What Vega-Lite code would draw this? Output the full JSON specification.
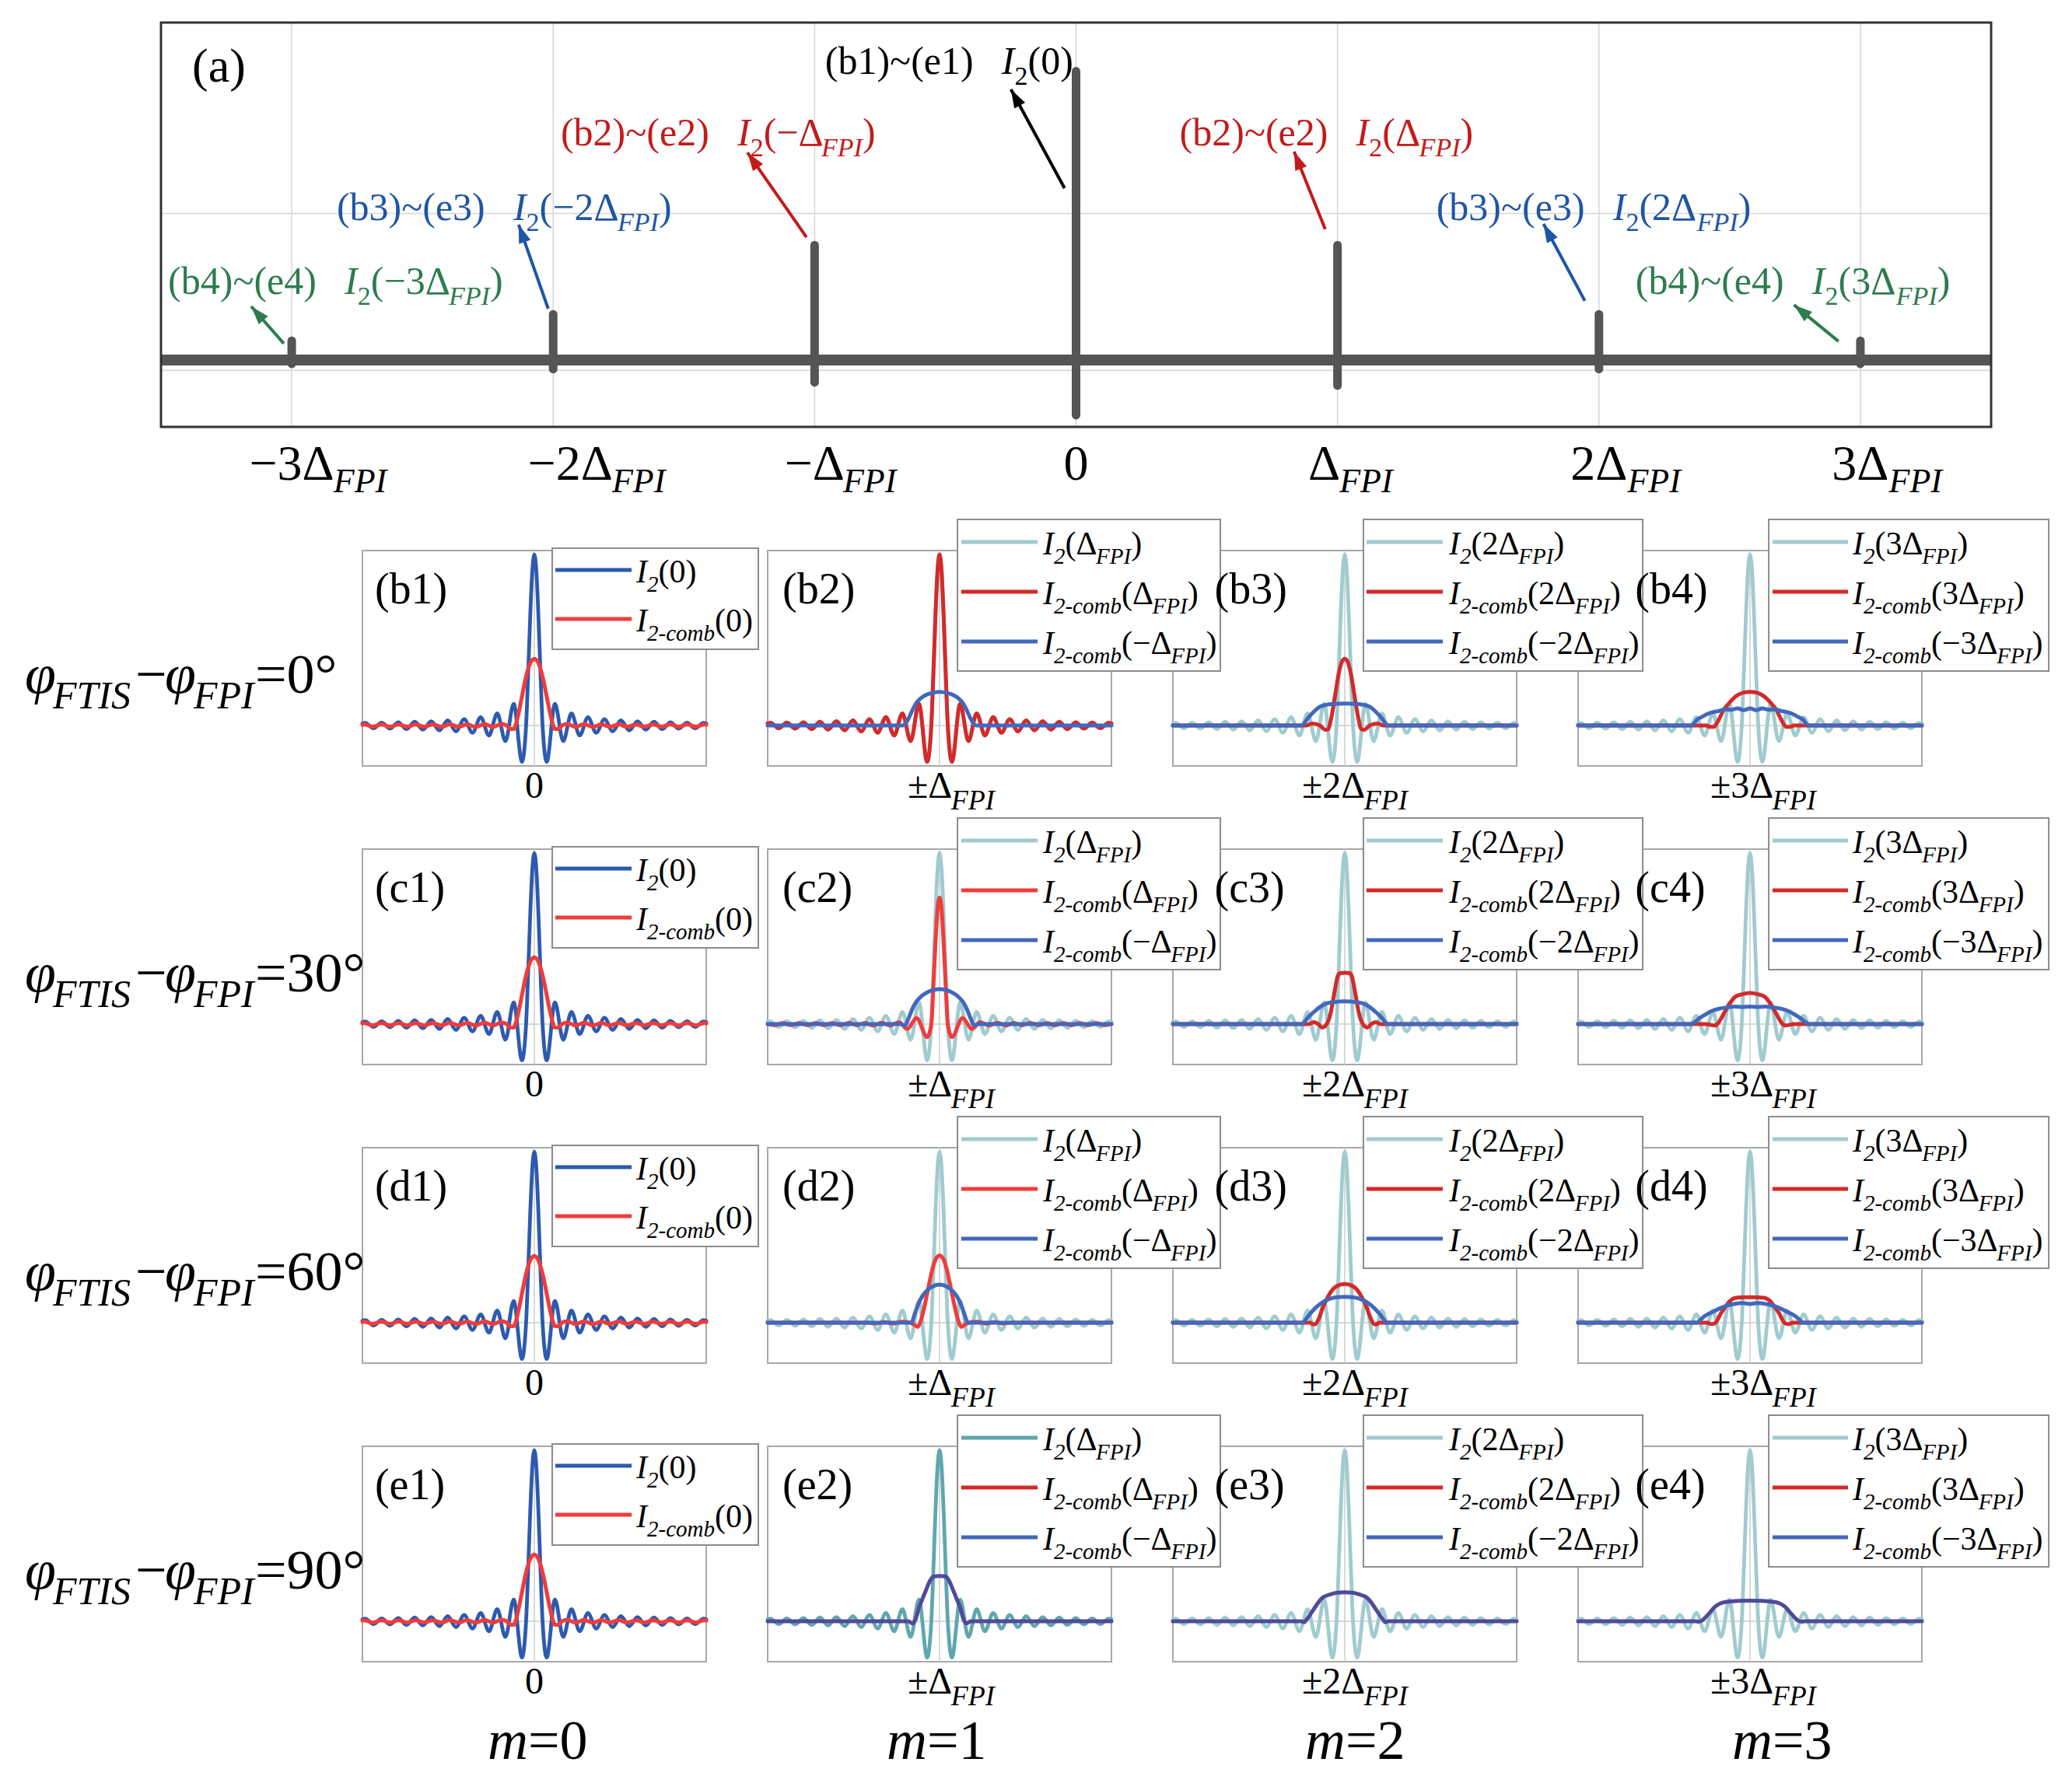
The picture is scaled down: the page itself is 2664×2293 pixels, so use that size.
{
"$schema": "https://vega.github.io/schema/vega-lite/v6.json",
"background": "white",
"padding": {"left": 31, "top": 27, "right": 10, "bottom": 14},
"config": {
 "view": {"stroke": null},
 "axis": {"disable": true},
 "legend": {"disable": true},
 "text": {"font": "Liberation Serif", "baseline": "alphabetic", "align": "left", "color": "#000000"},
 "line": {"interpolate": "monotone", "strokeCap": "round", "strokeJoin": "round"}
},
"datasets": {
 "stems": [{"k":-3,"y1":-0.013,"y2":0.066,"t":"−3Δ"},{"k":-2,"y1":-0.031,"y2":0.156,"t":"−2Δ"},{"k":-1,"y1":-0.076,"y2":0.392,"t":"−Δ"},{"k":0,"y1":-0.188,"y2":0.985,"t":"0"},{"k":1,"y1":-0.087,"y2":0.392,"t":"Δ"},{"k":2,"y1":-0.031,"y2":0.156,"t":"2Δ"},{"k":3,"y1":-0.013,"y2":0.066,"t":"3Δ"}],
 "arrows": [{"g":"k","x":-0.044,"y":0.586,"x2":-0.249,"y2":0.923},{"g":"r","x":-1.031,"y":0.419,"x2":-1.257,"y2":0.708},{"g":"r","x":0.953,"y":0.446,"x2":0.834,"y2":0.711},{"g":"b","x":-2.019,"y":0.175,"x2":-2.132,"y2":0.462},{"g":"b","x":1.946,"y":0.202,"x2":1.788,"y2":0.464},{"g":"gr","x":-3.03,"y":0.056,"x2":-3.155,"y2":0.183},{"g":"gr","x":2.916,"y":0.064,"x2":2.746,"y2":0.188}],
 "labs": [{"g":"k","x":-0.96,"y":0.976,"lab":"(b1)~(e1)","arg":"(0)"},{"g":"r","x":-1.971,"y":0.732,"lab":"(b2)~(e2)","arg":"(−Δ"},{"g":"r","x":0.396,"y":0.732,"lab":"(b2)~(e2)","arg":"(Δ"},{"g":"b","x":-2.828,"y":0.477,"lab":"(b3)~(e3)","arg":"(−2Δ"},{"g":"b","x":1.378,"y":0.477,"lab":"(b3)~(e3)","arg":"(2Δ"},{"g":"gr","x":-3.473,"y":0.225,"lab":"(b4)~(e4)","arg":"(−3Δ"},{"g":"gr","x":2.14,"y":0.225,"lab":"(b4)~(e4)","arg":"(3Δ"}],
 "cv": [
{"s":"L0_0","t":"(b1)","d":"=0°"},{"s":"L0_30","t":"(c1)","d":"=30°"},{"s":"L0_60","t":"(d1)","d":"=60°"},{"s":"L0_90","t":"(e1)","d":"=90°"},
{"s":"L1_0","t":"(b2)"},{"s":"L1_30","t":"(c2)"},{"s":"L1_60","t":"(d2)"},{"s":"L1_90","t":"(e2)"},
{"s":"L2_0","t":"(b3)"},{"s":"L2_30","t":"(c3)"},{"s":"L2_60","t":"(d3)"},{"s":"L2_90","t":"(e3)"},
{"s":"L3_0","t":"(b4)"},{"s":"L3_30","t":"(c4)"},{"s":"L3_60","t":"(d4)"},{"s":"L3_90","t":"(e4)"},
{"s":"S","x":-1,"y":0.012},{"s":"S","x":-0.984,"y":0.016},{"s":"S","x":-0.936,"y":-0.016},{"s":"S","x":-0.888,"y":0.017},{"s":"S","x":-0.84,"y":-0.018},{"s":"S","x":-0.792,"y":0.019},{"s":"S","x":-0.744,"y":-0.021},{"s":"S","x":-0.696,"y":0.022},{"s":"S","x":-0.648,"y":-0.024},{"s":"S","x":-0.6,"y":0.025},{"s":"S","x":-0.552,"y":-0.028},{"s":"S","x":-0.504,"y":0.03},{"s":"S","x":-0.456,"y":-0.034},{"s":"S","x":-0.408,"y":0.037},{"s":"S","x":-0.36,"y":-0.042},{"s":"S","x":-0.312,"y":0.049},{"s":"S","x":-0.264,"y":-0.058},{"s":"S","x":-0.216,"y":0.071},{"s":"S","x":-0.168,"y":-0.091},{"s":"S","x":-0.12,"y":0.127},{"s":"S","x":-0.072,"y":-0.212},{"s":"S","x":-0.048,"y":0},{"s":"S","x":-0.036,"y":0.3},{"s":"S","x":-0.024,"y":0.637},{"s":"S","x":-0.012,"y":0.9},{"s":"S","x":0,"y":1},{"s":"S","x":0.012,"y":0.9},{"s":"S","x":0.024,"y":0.637},{"s":"S","x":0.036,"y":0.3},{"s":"S","x":0.048,"y":0},{"s":"S","x":0.072,"y":-0.212},{"s":"S","x":0.12,"y":0.127},{"s":"S","x":0.168,"y":-0.091},{"s":"S","x":0.216,"y":0.071},{"s":"S","x":0.264,"y":-0.058},{"s":"S","x":0.312,"y":0.049},{"s":"S","x":0.36,"y":-0.042},{"s":"S","x":0.408,"y":0.037},{"s":"S","x":0.456,"y":-0.034},{"s":"S","x":0.504,"y":0.03},{"s":"S","x":0.552,"y":-0.028},{"s":"S","x":0.6,"y":0.025},{"s":"S","x":0.648,"y":-0.024},{"s":"S","x":0.696,"y":0.022},{"s":"S","x":0.744,"y":-0.021},{"s":"S","x":0.792,"y":0.019},{"s":"S","x":0.84,"y":-0.018},{"s":"S","x":0.888,"y":0.017},{"s":"S","x":0.936,"y":-0.016},{"s":"S","x":0.984,"y":0.016},{"s":"S","x":1,"y":0.012},
{"s":"R0","x":-1,"y":0.004},{"s":"R0","x":-0.99,"y":0.006},{"s":"R0","x":-0.94,"y":-0.006},{"s":"R0","x":-0.89,"y":0.006},{"s":"R0","x":-0.84,"y":-0.006},{"s":"R0","x":-0.79,"y":0.006},{"s":"R0","x":-0.74,"y":-0.006},{"s":"R0","x":-0.69,"y":0.006},{"s":"R0","x":-0.64,"y":-0.006},{"s":"R0","x":-0.59,"y":0.006},{"s":"R0","x":-0.54,"y":-0.007},{"s":"R0","x":-0.49,"y":0.007},{"s":"R0","x":-0.44,"y":-0.007},{"s":"R0","x":-0.39,"y":0.007},{"s":"R0","x":-0.34,"y":-0.008},{"s":"R0","x":-0.29,"y":0.008},{"s":"R0","x":-0.24,"y":-0.008},{"s":"R0","x":-0.19,"y":0.01},{"s":"R0","x":-0.16,"y":0},{"s":"R0","x":-0.14,"y":-0.02},{"s":"R0","x":-0.12,"y":-0.02},{"s":"R0","x":-0.104,"y":0.02},{"s":"R0","x":-0.09,"y":0.08},{"s":"R0","x":-0.072,"y":0.17},{"s":"R0","x":-0.054,"y":0.26},{"s":"R0","x":-0.036,"y":0.33},{"s":"R0","x":-0.018,"y":0.375},{"s":"R0","x":0,"y":0.39},{"s":"R0","x":0.018,"y":0.375},{"s":"R0","x":0.036,"y":0.33},{"s":"R0","x":0.054,"y":0.26},{"s":"R0","x":0.072,"y":0.17},{"s":"R0","x":0.09,"y":0.08},{"s":"R0","x":0.104,"y":0.02},{"s":"R0","x":0.12,"y":-0.02},{"s":"R0","x":0.14,"y":-0.02},{"s":"R0","x":0.16,"y":0},{"s":"R0","x":0.19,"y":0.01},{"s":"R0","x":0.24,"y":-0.008},{"s":"R0","x":0.29,"y":0.008},{"s":"R0","x":0.34,"y":-0.008},{"s":"R0","x":0.39,"y":0.007},{"s":"R0","x":0.44,"y":-0.007},{"s":"R0","x":0.49,"y":0.007},{"s":"R0","x":0.54,"y":-0.007},{"s":"R0","x":0.59,"y":0.006},{"s":"R0","x":0.64,"y":-0.006},{"s":"R0","x":0.69,"y":0.006},{"s":"R0","x":0.74,"y":-0.006},{"s":"R0","x":0.79,"y":0.006},{"s":"R0","x":0.84,"y":-0.006},{"s":"R0","x":0.89,"y":0.006},{"s":"R0","x":0.94,"y":-0.006},{"s":"R0","x":0.99,"y":0.006},{"s":"R0","x":1,"y":0.004},
{"s":"R1_30","x":-1,"y":0},{"s":"R1_30","x":-0.96,"y":-0.006},{"s":"R1_30","x":-0.912,"y":0.006},{"s":"R1_30","x":-0.864,"y":-0.006},{"s":"R1_30","x":-0.816,"y":0.006},{"s":"R1_30","x":-0.768,"y":-0.006},{"s":"R1_30","x":-0.72,"y":0.006},{"s":"R1_30","x":-0.672,"y":-0.006},{"s":"R1_30","x":-0.624,"y":0.006},{"s":"R1_30","x":-0.576,"y":-0.007},{"s":"R1_30","x":-0.528,"y":0.007},{"s":"R1_30","x":-0.48,"y":-0.007},{"s":"R1_30","x":-0.432,"y":0.007},{"s":"R1_30","x":-0.384,"y":-0.008},{"s":"R1_30","x":-0.336,"y":0.008},{"s":"R1_30","x":-0.288,"y":-0.008},{"s":"R1_30","x":-0.236,"y":0.012},{"s":"R1_30","x":-0.188,"y":-0.028},{"s":"R1_30","x":-0.134,"y":0.036},{"s":"R1_30","x":-0.072,"y":-0.076},{"s":"R1_30","x":-0.048,"y":0},{"s":"R1_30","x":-0.036,"y":0.22},{"s":"R1_30","x":-0.024,"y":0.47},{"s":"R1_30","x":-0.012,"y":0.67},{"s":"R1_30","x":0,"y":0.74},{"s":"R1_30","x":0.012,"y":0.67},{"s":"R1_30","x":0.024,"y":0.47},{"s":"R1_30","x":0.036,"y":0.22},{"s":"R1_30","x":0.048,"y":0},{"s":"R1_30","x":0.072,"y":-0.076},{"s":"R1_30","x":0.134,"y":0.036},{"s":"R1_30","x":0.188,"y":-0.028},{"s":"R1_30","x":0.236,"y":0.012},{"s":"R1_30","x":0.288,"y":-0.008},{"s":"R1_30","x":0.336,"y":0.008},{"s":"R1_30","x":0.384,"y":-0.008},{"s":"R1_30","x":0.432,"y":0.007},{"s":"R1_30","x":0.48,"y":-0.007},{"s":"R1_30","x":0.528,"y":0.007},{"s":"R1_30","x":0.576,"y":-0.007},{"s":"R1_30","x":0.624,"y":0.006},{"s":"R1_30","x":0.672,"y":-0.006},{"s":"R1_30","x":0.72,"y":0.006},{"s":"R1_30","x":0.768,"y":-0.006},{"s":"R1_30","x":0.816,"y":0.006},{"s":"R1_30","x":0.864,"y":-0.006},{"s":"R1_30","x":0.912,"y":0.006},{"s":"R1_30","x":0.96,"y":-0.006},{"s":"R1_30","x":1,"y":0},
{"s":"B1_0","x":-1,"y":0},{"s":"B1_0","x":-0.215,"y":0},{"s":"B1_0","x":-0.199,"y":0.01},{"s":"B1_0","x":-0.181,"y":0.04},{"s":"B1_0","x":-0.158,"y":0.09},{"s":"B1_0","x":-0.136,"y":0.13},{"s":"B1_0","x":-0.109,"y":0.16},{"s":"B1_0","x":-0.081,"y":0.178},{"s":"B1_0","x":-0.045,"y":0.19},{"s":"B1_0","x":0,"y":0.197},{"s":"B1_0","x":0.045,"y":0.19},{"s":"B1_0","x":0.081,"y":0.178},{"s":"B1_0","x":0.109,"y":0.16},{"s":"B1_0","x":0.136,"y":0.13},{"s":"B1_0","x":0.158,"y":0.09},{"s":"B1_0","x":0.181,"y":0.04},{"s":"B1_0","x":0.199,"y":0.01},{"s":"B1_0","x":0.215,"y":0},{"s":"B1_0","x":1,"y":0},
{"s":"B1_30","x":-1,"y":0},{"s":"B1_30","x":-0.225,"y":0},{"s":"B1_30","x":-0.205,"y":-0.008},{"s":"B1_30","x":-0.195,"y":0},{"s":"B1_30","x":-0.18,"y":0.035},{"s":"B1_30","x":-0.16,"y":0.085},{"s":"B1_30","x":-0.136,"y":0.13},{"s":"B1_30","x":-0.109,"y":0.16},{"s":"B1_30","x":-0.081,"y":0.18},{"s":"B1_30","x":-0.045,"y":0.197},{"s":"B1_30","x":0,"y":0.205},{"s":"B1_30","x":0.045,"y":0.197},{"s":"B1_30","x":0.081,"y":0.18},{"s":"B1_30","x":0.109,"y":0.16},{"s":"B1_30","x":0.136,"y":0.13},{"s":"B1_30","x":0.16,"y":0.085},{"s":"B1_30","x":0.18,"y":0.035},{"s":"B1_30","x":0.195,"y":0},{"s":"B1_30","x":0.205,"y":-0.008},{"s":"B1_30","x":0.225,"y":0},{"s":"B1_30","x":1,"y":0},
{"s":"R1_60","x":-1,"y":0},{"s":"R1_60","x":-0.42,"y":0},{"s":"R1_60","x":-0.37,"y":-0.004},{"s":"R1_60","x":-0.32,"y":0.004},{"s":"R1_60","x":-0.27,"y":-0.005},{"s":"R1_60","x":-0.22,"y":0.006},{"s":"R1_60","x":-0.172,"y":0},{"s":"R1_60","x":-0.149,"y":-0.01},{"s":"R1_60","x":-0.127,"y":-0.025},{"s":"R1_60","x":-0.113,"y":0},{"s":"R1_60","x":-0.09,"y":0.085},{"s":"R1_60","x":-0.068,"y":0.19},{"s":"R1_60","x":-0.045,"y":0.3},{"s":"R1_60","x":-0.023,"y":0.37},{"s":"R1_60","x":0,"y":0.394},{"s":"R1_60","x":0.023,"y":0.37},{"s":"R1_60","x":0.045,"y":0.3},{"s":"R1_60","x":0.068,"y":0.19},{"s":"R1_60","x":0.09,"y":0.085},{"s":"R1_60","x":0.113,"y":0},{"s":"R1_60","x":0.127,"y":-0.025},{"s":"R1_60","x":0.149,"y":-0.01},{"s":"R1_60","x":0.172,"y":0},{"s":"R1_60","x":0.22,"y":0.006},{"s":"R1_60","x":0.27,"y":-0.005},{"s":"R1_60","x":0.32,"y":0.004},{"s":"R1_60","x":0.37,"y":-0.004},{"s":"R1_60","x":0.42,"y":0},{"s":"R1_60","x":1,"y":0},
{"s":"B1_60","x":-1,"y":0},{"s":"B1_60","x":-0.168,"y":0},{"s":"B1_60","x":-0.158,"y":0.01},{"s":"B1_60","x":-0.145,"y":0.05},{"s":"B1_60","x":-0.127,"y":0.1},{"s":"B1_60","x":-0.109,"y":0.14},{"s":"B1_60","x":-0.081,"y":0.18},{"s":"B1_60","x":-0.045,"y":0.21},{"s":"B1_60","x":0,"y":0.223},{"s":"B1_60","x":0.045,"y":0.21},{"s":"B1_60","x":0.081,"y":0.18},{"s":"B1_60","x":0.109,"y":0.14},{"s":"B1_60","x":0.127,"y":0.1},{"s":"B1_60","x":0.145,"y":0.05},{"s":"B1_60","x":0.158,"y":0.01},{"s":"B1_60","x":0.168,"y":0},{"s":"B1_60","x":1,"y":0},
{"s":"E1_90","x":-1,"y":0},{"s":"E1_90","x":-0.181,"y":0},{"s":"E1_90","x":-0.158,"y":-0.012},{"s":"E1_90","x":-0.14,"y":0.01},{"s":"E1_90","x":-0.118,"y":0.086},{"s":"E1_90","x":-0.1,"y":0.13},{"s":"E1_90","x":-0.081,"y":0.177},{"s":"E1_90","x":-0.054,"y":0.24},{"s":"E1_90","x":-0.036,"y":0.262},{"s":"E1_90","x":0,"y":0.265},{"s":"E1_90","x":0.036,"y":0.262},{"s":"E1_90","x":0.054,"y":0.24},{"s":"E1_90","x":0.081,"y":0.177},{"s":"E1_90","x":0.1,"y":0.13},{"s":"E1_90","x":0.118,"y":0.086},{"s":"E1_90","x":0.14,"y":0.01},{"s":"E1_90","x":0.158,"y":-0.012},{"s":"E1_90","x":0.181,"y":0},{"s":"E1_90","x":1,"y":0},
{"s":"R2_0","x":-1,"y":0},{"s":"R2_0","x":-0.226,"y":0},{"s":"R2_0","x":-0.19,"y":0.012},{"s":"R2_0","x":-0.145,"y":0},{"s":"R2_0","x":-0.113,"y":-0.025},{"s":"R2_0","x":-0.095,"y":-0.02},{"s":"R2_0","x":-0.086,"y":0.01},{"s":"R2_0","x":-0.072,"y":0.08},{"s":"R2_0","x":-0.054,"y":0.19},{"s":"R2_0","x":-0.036,"y":0.3},{"s":"R2_0","x":-0.018,"y":0.37},{"s":"R2_0","x":0,"y":0.39},{"s":"R2_0","x":0.018,"y":0.37},{"s":"R2_0","x":0.036,"y":0.3},{"s":"R2_0","x":0.054,"y":0.19},{"s":"R2_0","x":0.072,"y":0.08},{"s":"R2_0","x":0.086,"y":0.01},{"s":"R2_0","x":0.095,"y":-0.02},{"s":"R2_0","x":0.113,"y":-0.025},{"s":"R2_0","x":0.145,"y":0},{"s":"R2_0","x":0.19,"y":0.012},{"s":"R2_0","x":0.226,"y":0},{"s":"R2_0","x":1,"y":0},
{"s":"B2_0","x":-1,"y":0},{"s":"B2_0","x":-0.249,"y":0},{"s":"B2_0","x":-0.235,"y":0.015},{"s":"B2_0","x":-0.213,"y":0.045},{"s":"B2_0","x":-0.181,"y":0.08},{"s":"B2_0","x":-0.145,"y":0.11},{"s":"B2_0","x":-0.113,"y":0.12},{"s":"B2_0","x":-0.068,"y":0.127},{"s":"B2_0","x":0,"y":0.129},{"s":"B2_0","x":0.068,"y":0.127},{"s":"B2_0","x":0.113,"y":0.12},{"s":"B2_0","x":0.145,"y":0.11},{"s":"B2_0","x":0.181,"y":0.08},{"s":"B2_0","x":0.213,"y":0.045},{"s":"B2_0","x":0.235,"y":0.015},{"s":"B2_0","x":0.249,"y":0},{"s":"B2_0","x":1,"y":0},
{"s":"R2_30","x":-1,"y":0},{"s":"R2_30","x":-0.208,"y":0},{"s":"R2_30","x":-0.181,"y":0.012},{"s":"R2_30","x":-0.154,"y":0},{"s":"R2_30","x":-0.131,"y":-0.02},{"s":"R2_30","x":-0.113,"y":-0.01},{"s":"R2_30","x":-0.095,"y":0.02},{"s":"R2_30","x":-0.081,"y":0.07},{"s":"R2_30","x":-0.068,"y":0.14},{"s":"R2_30","x":-0.054,"y":0.22},{"s":"R2_30","x":-0.041,"y":0.28},{"s":"R2_30","x":-0.027,"y":0.298},{"s":"R2_30","x":0,"y":0.3},{"s":"R2_30","x":0.027,"y":0.298},{"s":"R2_30","x":0.041,"y":0.28},{"s":"R2_30","x":0.054,"y":0.22},{"s":"R2_30","x":0.068,"y":0.14},{"s":"R2_30","x":0.081,"y":0.07},{"s":"R2_30","x":0.095,"y":0.02},{"s":"R2_30","x":0.113,"y":-0.01},{"s":"R2_30","x":0.131,"y":-0.02},{"s":"R2_30","x":0.154,"y":0},{"s":"R2_30","x":0.181,"y":0.012},{"s":"R2_30","x":0.208,"y":0},{"s":"R2_30","x":1,"y":0},
{"s":"B2_30","x":-1,"y":0},{"s":"B2_30","x":-0.249,"y":0},{"s":"B2_30","x":-0.235,"y":0.012},{"s":"B2_30","x":-0.213,"y":0.04},{"s":"B2_30","x":-0.181,"y":0.07},{"s":"B2_30","x":-0.145,"y":0.1},{"s":"B2_30","x":-0.113,"y":0.118},{"s":"B2_30","x":-0.068,"y":0.128},{"s":"B2_30","x":0,"y":0.133},{"s":"B2_30","x":0.068,"y":0.128},{"s":"B2_30","x":0.113,"y":0.118},{"s":"B2_30","x":0.145,"y":0.1},{"s":"B2_30","x":0.181,"y":0.07},{"s":"B2_30","x":0.213,"y":0.04},{"s":"B2_30","x":0.235,"y":0.012},{"s":"B2_30","x":0.249,"y":0},{"s":"B2_30","x":1,"y":0},
{"s":"R2_60","x":-1,"y":0},{"s":"R2_60","x":-0.2,"y":0},{"s":"R2_60","x":-0.181,"y":-0.01},{"s":"R2_60","x":-0.167,"y":-0.005},{"s":"R2_60","x":-0.149,"y":0.03},{"s":"R2_60","x":-0.131,"y":0.08},{"s":"R2_60","x":-0.109,"y":0.13},{"s":"R2_60","x":-0.081,"y":0.18},{"s":"R2_60","x":-0.045,"y":0.215},{"s":"R2_60","x":0,"y":0.227},{"s":"R2_60","x":0.045,"y":0.215},{"s":"R2_60","x":0.081,"y":0.18},{"s":"R2_60","x":0.109,"y":0.13},{"s":"R2_60","x":0.131,"y":0.08},{"s":"R2_60","x":0.149,"y":0.03},{"s":"R2_60","x":0.167,"y":-0.005},{"s":"R2_60","x":0.181,"y":-0.01},{"s":"R2_60","x":0.2,"y":0},{"s":"R2_60","x":1,"y":0},
{"s":"B2_60","x":-1,"y":0},{"s":"B2_60","x":-0.244,"y":0},{"s":"B2_60","x":-0.226,"y":0.02},{"s":"B2_60","x":-0.204,"y":0.05},{"s":"B2_60","x":-0.172,"y":0.085},{"s":"B2_60","x":-0.136,"y":0.115},{"s":"B2_60","x":-0.1,"y":0.135},{"s":"B2_60","x":-0.054,"y":0.148},{"s":"B2_60","x":0,"y":0.152},{"s":"B2_60","x":0.054,"y":0.148},{"s":"B2_60","x":0.1,"y":0.135},{"s":"B2_60","x":0.136,"y":0.115},{"s":"B2_60","x":0.172,"y":0.085},{"s":"B2_60","x":0.204,"y":0.05},{"s":"B2_60","x":0.226,"y":0.02},{"s":"B2_60","x":0.244,"y":0},{"s":"B2_60","x":1,"y":0},
{"s":"E2_90","x":-1,"y":0},{"s":"E2_90","x":-0.253,"y":0},{"s":"E2_90","x":-0.235,"y":-0.005},{"s":"E2_90","x":-0.226,"y":0.005},{"s":"E2_90","x":-0.204,"y":0.035},{"s":"E2_90","x":-0.181,"y":0.07},{"s":"E2_90","x":-0.154,"y":0.11},{"s":"E2_90","x":-0.127,"y":0.14},{"s":"E2_90","x":-0.09,"y":0.155},{"s":"E2_90","x":-0.045,"y":0.167},{"s":"E2_90","x":0,"y":0.17},{"s":"E2_90","x":0.045,"y":0.167},{"s":"E2_90","x":0.09,"y":0.155},{"s":"E2_90","x":0.127,"y":0.14},{"s":"E2_90","x":0.154,"y":0.11},{"s":"E2_90","x":0.181,"y":0.07},{"s":"E2_90","x":0.204,"y":0.035},{"s":"E2_90","x":0.226,"y":0.005},{"s":"E2_90","x":0.235,"y":-0.005},{"s":"E2_90","x":0.253,"y":0},{"s":"E2_90","x":1,"y":0},
{"s":"R3_0","x":-1,"y":0},{"s":"R3_0","x":-0.253,"y":0},{"s":"R3_0","x":-0.235,"y":-0.008},{"s":"R3_0","x":-0.213,"y":-0.008},{"s":"R3_0","x":-0.195,"y":0.01},{"s":"R3_0","x":-0.176,"y":0.045},{"s":"R3_0","x":-0.154,"y":0.09},{"s":"R3_0","x":-0.127,"y":0.125},{"s":"R3_0","x":-0.1,"y":0.155},{"s":"R3_0","x":-0.068,"y":0.18},{"s":"R3_0","x":-0.036,"y":0.193},{"s":"R3_0","x":0,"y":0.197},{"s":"R3_0","x":0.036,"y":0.193},{"s":"R3_0","x":0.068,"y":0.18},{"s":"R3_0","x":0.1,"y":0.155},{"s":"R3_0","x":0.127,"y":0.125},{"s":"R3_0","x":0.154,"y":0.09},{"s":"R3_0","x":0.176,"y":0.045},{"s":"R3_0","x":0.195,"y":0.01},{"s":"R3_0","x":0.213,"y":-0.008},{"s":"R3_0","x":0.235,"y":-0.008},{"s":"R3_0","x":0.253,"y":0},{"s":"R3_0","x":1,"y":0},
{"s":"B3_0","x":-1,"y":0},{"s":"B3_0","x":-0.344,"y":0},{"s":"B3_0","x":-0.326,"y":0.012},{"s":"B3_0","x":-0.308,"y":0.035},{"s":"B3_0","x":-0.281,"y":0.05},{"s":"B3_0","x":-0.253,"y":0.065},{"s":"B3_0","x":-0.217,"y":0.078},{"s":"B3_0","x":-0.181,"y":0.085},{"s":"B3_0","x":-0.145,"y":0.095},{"s":"B3_0","x":-0.109,"y":0.092},{"s":"B3_0","x":-0.072,"y":0.1},{"s":"B3_0","x":-0.036,"y":0.09},{"s":"B3_0","x":0,"y":0.1},{"s":"B3_0","x":0.036,"y":0.09},{"s":"B3_0","x":0.072,"y":0.1},{"s":"B3_0","x":0.109,"y":0.092},{"s":"B3_0","x":0.145,"y":0.095},{"s":"B3_0","x":0.181,"y":0.085},{"s":"B3_0","x":0.217,"y":0.078},{"s":"B3_0","x":0.253,"y":0.065},{"s":"B3_0","x":0.281,"y":0.05},{"s":"B3_0","x":0.308,"y":0.035},{"s":"B3_0","x":0.326,"y":0.012},{"s":"B3_0","x":0.344,"y":0},{"s":"B3_0","x":1,"y":0},
{"s":"R3_30","x":-1,"y":0},{"s":"R3_30","x":-0.253,"y":0},{"s":"R3_30","x":-0.226,"y":-0.005},{"s":"R3_30","x":-0.204,"y":-0.008},{"s":"R3_30","x":-0.186,"y":0.005},{"s":"R3_30","x":-0.167,"y":0.035},{"s":"R3_30","x":-0.145,"y":0.075},{"s":"R3_30","x":-0.118,"y":0.12},{"s":"R3_30","x":-0.086,"y":0.16},{"s":"R3_30","x":-0.045,"y":0.175},{"s":"R3_30","x":0,"y":0.182},{"s":"R3_30","x":0.045,"y":0.175},{"s":"R3_30","x":0.086,"y":0.16},{"s":"R3_30","x":0.118,"y":0.12},{"s":"R3_30","x":0.145,"y":0.075},{"s":"R3_30","x":0.167,"y":0.035},{"s":"R3_30","x":0.186,"y":0.005},{"s":"R3_30","x":0.204,"y":-0.008},{"s":"R3_30","x":0.226,"y":-0.005},{"s":"R3_30","x":0.253,"y":0},{"s":"R3_30","x":1,"y":0},
{"s":"B3_30","x":-1,"y":0},{"s":"B3_30","x":-0.344,"y":0},{"s":"B3_30","x":-0.321,"y":0.012},{"s":"B3_30","x":-0.294,"y":0.035},{"s":"B3_30","x":-0.262,"y":0.055},{"s":"B3_30","x":-0.226,"y":0.075},{"s":"B3_30","x":-0.181,"y":0.09},{"s":"B3_30","x":-0.136,"y":0.098},{"s":"B3_30","x":-0.09,"y":0.103},{"s":"B3_30","x":-0.045,"y":0.1},{"s":"B3_30","x":0,"y":0.103},{"s":"B3_30","x":0.045,"y":0.1},{"s":"B3_30","x":0.09,"y":0.103},{"s":"B3_30","x":0.136,"y":0.098},{"s":"B3_30","x":0.181,"y":0.09},{"s":"B3_30","x":0.226,"y":0.075},{"s":"B3_30","x":0.262,"y":0.055},{"s":"B3_30","x":0.294,"y":0.035},{"s":"B3_30","x":0.321,"y":0.012},{"s":"B3_30","x":0.344,"y":0},{"s":"B3_30","x":1,"y":0},
{"s":"R3_60","x":-1,"y":0},{"s":"R3_60","x":-0.249,"y":0},{"s":"R3_60","x":-0.226,"y":-0.008},{"s":"R3_60","x":-0.208,"y":-0.005},{"s":"R3_60","x":-0.19,"y":0.015},{"s":"R3_60","x":-0.172,"y":0.05},{"s":"R3_60","x":-0.145,"y":0.09},{"s":"R3_60","x":-0.118,"y":0.125},{"s":"R3_60","x":-0.086,"y":0.145},{"s":"R3_60","x":-0.045,"y":0.148},{"s":"R3_60","x":0,"y":0.149},{"s":"R3_60","x":0.045,"y":0.148},{"s":"R3_60","x":0.086,"y":0.145},{"s":"R3_60","x":0.118,"y":0.125},{"s":"R3_60","x":0.145,"y":0.09},{"s":"R3_60","x":0.172,"y":0.05},{"s":"R3_60","x":0.19,"y":0.015},{"s":"R3_60","x":0.208,"y":-0.005},{"s":"R3_60","x":0.226,"y":-0.008},{"s":"R3_60","x":0.249,"y":0},{"s":"R3_60","x":1,"y":0},
{"s":"B3_60","x":-1,"y":0},{"s":"B3_60","x":-0.308,"y":0},{"s":"B3_60","x":-0.285,"y":0.02},{"s":"B3_60","x":-0.262,"y":0.04},{"s":"B3_60","x":-0.235,"y":0.055},{"s":"B3_60","x":-0.204,"y":0.07},{"s":"B3_60","x":-0.172,"y":0.085},{"s":"B3_60","x":-0.136,"y":0.1},{"s":"B3_60","x":-0.09,"y":0.11},{"s":"B3_60","x":-0.045,"y":0.115},{"s":"B3_60","x":0,"y":0.11},{"s":"B3_60","x":0.045,"y":0.115},{"s":"B3_60","x":0.09,"y":0.11},{"s":"B3_60","x":0.136,"y":0.1},{"s":"B3_60","x":0.172,"y":0.085},{"s":"B3_60","x":0.204,"y":0.07},{"s":"B3_60","x":0.235,"y":0.055},{"s":"B3_60","x":0.262,"y":0.04},{"s":"B3_60","x":0.285,"y":0.02},{"s":"B3_60","x":0.308,"y":0},{"s":"B3_60","x":1,"y":0},
{"s":"E3_90","x":-1,"y":0},{"s":"E3_90","x":-0.317,"y":0},{"s":"E3_90","x":-0.299,"y":-0.002},{"s":"E3_90","x":-0.281,"y":0.003},{"s":"E3_90","x":-0.262,"y":0.02},{"s":"E3_90","x":-0.235,"y":0.05},{"s":"E3_90","x":-0.204,"y":0.085},{"s":"E3_90","x":-0.172,"y":0.105},{"s":"E3_90","x":-0.127,"y":0.115},{"s":"E3_90","x":-0.068,"y":0.12},{"s":"E3_90","x":0,"y":0.121},{"s":"E3_90","x":0.068,"y":0.12},{"s":"E3_90","x":0.127,"y":0.115},{"s":"E3_90","x":0.172,"y":0.105},{"s":"E3_90","x":0.204,"y":0.085},{"s":"E3_90","x":0.235,"y":0.05},{"s":"E3_90","x":0.262,"y":0.02},{"s":"E3_90","x":0.281,"y":0.003},{"s":"E3_90","x":0.299,"y":-0.002},{"s":"E3_90","x":0.317,"y":0},{"s":"E3_90","x":1,"y":0}
 ]
},
"vconcat": [
 {
  "width": 2094, "height": 520,
  "layer": [
   {"data": {"name": "stems"}, "mark": {"type": "rule", "color": "#d6d6d6", "strokeWidth": 1.5},
    "encoding": {"x": {"field": "k", "type": "quantitative", "scale": {"domain": [-2.7295, 3.5], "nice": false, "zero": false}},
     "y": {"datum": -0.228, "type": "quantitative", "scale": {"domain": [-0.228, 1.151], "nice": false, "zero": false}}, "y2": {"datum": 1.151}}},
   {"data": {"values": [{"h": 0.5}, {"h": -0.035}]}, "mark": {"type": "rule", "color": "#d6d6d6", "strokeWidth": 1.5},
    "encoding": {"y": {"field": "h", "type": "quantitative"}, "x": {"datum": -3.5}, "x2": {"datum": 3.5}}},
   {"data": {"values": [{"h": 0}]}, "mark": {"type": "rule", "color": "#555555", "strokeWidth": 14},
    "encoding": {"y": {"field": "h", "type": "quantitative"}, "x": {"datum": -3.5}, "x2": {"datum": 3.5}}},
   {"data": {"name": "stems"}, "mark": {"type": "rule", "color": "#555555", "strokeWidth": 11, "strokeCap": "round"},
    "encoding": {"x": {"field": "k", "type": "quantitative"}, "y": {"field": "y1", "type": "quantitative"}, "y2": {"field": "y2"}}},
   {"data": {"name": "arrows"}, "mark": {"type": "rule", "strokeWidth": 4},
    "encoding": {"x": {"field": "x", "type": "quantitative"}, "y": {"field": "y", "type": "quantitative"}, "x2": {"field": "x2"}, "y2": {"field": "y2"},
     "color": {"field": "g", "type": "nominal", "scale": {"domain": ["k","r","b","gr"], "range": ["#000000","#c41a1a","#1f55a5","#2d7c4e"]}, "legend": null}}},
   {"data": {"name": "arrows"}, "transform": [{"calculate": "atan2((datum.x2-datum.x)*336.2,(datum.y2-datum.y)*377)*180/PI", "as": "a"}],
    "mark": {"type": "point", "shape": "M0,0L-0.5,1.5L0.5,1.5Z", "filled": true, "size": 1000, "opacity": 1, "strokeWidth": 0},
    "encoding": {"x": {"field": "x2", "type": "quantitative"}, "y": {"field": "y2", "type": "quantitative"}, "angle": {"field": "a", "type": "quantitative", "scale": null},
     "color": {"field": "g", "type": "nominal", "legend": null}}},
   {"data": {"name": "labs"}, "mark": {"type": "text", "fontSize": 50},
    "encoding": {"x": {"field": "x", "type": "quantitative"}, "y": {"field": "y", "type": "quantitative"}, "text": {"field": "lab"}, "color": {"field": "g", "type": "nominal", "legend": null}}},
   {"data": {"name": "labs"}, "mark": {"type": "text", "fontSize": 50, "fontStyle": "italic", "dx": 227},
    "encoding": {"x": {"field": "x", "type": "quantitative"}, "y": {"field": "y", "type": "quantitative"}, "text": {"value": "I"}, "color": {"field": "g", "type": "nominal", "legend": null}}},
   {"data": {"name": "labs"}, "mark": {"type": "text", "fontSize": 34, "dx": 243.7, "dy": 14},
    "encoding": {"x": {"field": "x", "type": "quantitative"}, "y": {"field": "y", "type": "quantitative"}, "text": {"value": "2"}, "color": {"field": "g", "type": "nominal", "legend": null}}},
   {"data": {"name": "labs"}, "mark": {"type": "text", "fontSize": 50, "dx": 260.7},
    "encoding": {"x": {"field": "x", "type": "quantitative"}, "y": {"field": "y", "type": "quantitative"}, "text": {"field": "arg"}, "color": {"field": "g", "type": "nominal", "legend": null}}},
   {"data": {"name": "labs"}, "transform": [{"filter": "datum.arg=='(Δ'"}], "mark": {"type": "text", "fontSize": 34, "fontStyle": "italic", "dx": 308, "dy": 14},
    "encoding": {"x": {"field": "x", "type": "quantitative"}, "y": {"field": "y", "type": "quantitative"}, "text": {"value": "FPI"}, "color": {"field": "g", "type": "nominal", "legend": null}}},
   {"data": {"name": "labs"}, "transform": [{"filter": "datum.arg=='(2Δ'||datum.arg=='(3Δ'||datum.arg=='(−Δ'"}], "mark": {"type": "text", "fontSize": 34, "fontStyle": "italic", "dx": 335, "dy": 14},
    "encoding": {"x": {"field": "x", "type": "quantitative"}, "y": {"field": "y", "type": "quantitative"}, "text": {"value": "FPI"}, "color": {"field": "g", "type": "nominal", "legend": null}}},
   {"data": {"name": "labs"}, "transform": [{"filter": "datum.arg=='(−2Δ'||datum.arg=='(−3Δ'"}], "mark": {"type": "text", "fontSize": 34, "fontStyle": "italic", "dx": 361, "dy": 14},
    "encoding": {"x": {"field": "x", "type": "quantitative"}, "y": {"field": "y", "type": "quantitative"}, "text": {"value": "FPI"}, "color": {"field": "g", "type": "nominal", "legend": null}}},
   {"data": {"name": "labs"}, "transform": [{"filter": "datum.arg=='(Δ'"}], "mark": {"type": "text", "fontSize": 50, "dx": 361},
    "encoding": {"x": {"field": "x", "type": "quantitative"}, "y": {"field": "y", "type": "quantitative"}, "text": {"value": ")"}, "color": {"field": "g", "type": "nominal", "legend": null}}},
   {"data": {"name": "labs"}, "transform": [{"filter": "datum.arg=='(2Δ'||datum.arg=='(3Δ'||datum.arg=='(−Δ'"}], "mark": {"type": "text", "fontSize": 50, "dx": 388},
    "encoding": {"x": {"field": "x", "type": "quantitative"}, "y": {"field": "y", "type": "quantitative"}, "text": {"value": ")"}, "color": {"field": "g", "type": "nominal", "legend": null}}},
   {"data": {"name": "labs"}, "transform": [{"filter": "datum.arg=='(−2Δ'||datum.arg=='(−3Δ'"}], "mark": {"type": "text", "fontSize": 50, "dx": 414},
    "encoding": {"x": {"field": "x", "type": "quantitative"}, "y": {"field": "y", "type": "quantitative"}, "text": {"value": ")"}, "color": {"field": "g", "type": "nominal", "legend": null}}},
   {"data": {"values": [{"t": "(a)"}]}, "mark": {"type": "text", "fontSize": 62},
    "encoding": {"x": {"datum": -3.381}, "y": {"datum": 0.95}, "text": {"field": "t"}}},
   {"data": {"name": "stems"}, "transform": [{"filter": "datum.t!='−2Δ'&&datum.t!='Δ'"}], "mark": {"type": "text", "fontSize": 64, "align": "center"},
    "encoding": {"x": {"field": "k", "type": "quantitative"}, "y": {"datum": -0.408}, "text": {"field": "t"}}},
   {"data": {"name": "stems"}, "transform": [{"filter": "datum.t=='−2Δ'"}], "mark": {"type": "text", "fontSize": 64, "align": "center", "dx": 22},
    "encoding": {"x": {"field": "k", "type": "quantitative"}, "y": {"datum": -0.408}, "text": {"field": "t"}}},
   {"data": {"name": "stems"}, "transform": [{"filter": "datum.t=='Δ'"}], "mark": {"type": "text", "fontSize": 64, "align": "center", "dx": -17},
    "encoding": {"x": {"field": "k", "type": "quantitative"}, "y": {"datum": -0.408}, "text": {"field": "t"}}},
   {"data": {"name": "stems"}, "transform": [{"filter": "datum.t=='−3Δ'"}], "mark": {"type": "text", "fontSize": 44, "fontStyle": "italic", "dx": 53.7, "dy": 16},
    "encoding": {"x": {"field": "k", "type": "quantitative"}, "y": {"datum": -0.408}, "text": {"value": "FPI"}}},
   {"data": {"name": "stems"}, "transform": [{"filter": "datum.t=='−2Δ'"}], "mark": {"type": "text", "fontSize": 44, "fontStyle": "italic", "dx": 75.7, "dy": 16},
    "encoding": {"x": {"field": "k", "type": "quantitative"}, "y": {"datum": -0.408}, "text": {"value": "FPI"}}},
   {"data": {"name": "stems"}, "transform": [{"filter": "datum.t=='−Δ'||datum.t=='2Δ'||datum.t=='3Δ'"}], "mark": {"type": "text", "fontSize": 44, "fontStyle": "italic", "dx": 36.6, "dy": 16},
    "encoding": {"x": {"field": "k", "type": "quantitative"}, "y": {"datum": -0.408}, "text": {"value": "FPI"}}},
   {"data": {"name": "stems"}, "transform": [{"filter": "datum.t=='Δ'"}], "mark": {"type": "text", "fontSize": 44, "fontStyle": "italic", "dx": 2.6, "dy": 16},
    "encoding": {"x": {"field": "k", "type": "quantitative"}, "y": {"datum": -0.408}, "text": {"value": "FPI"}}},
   {"data": {"values": [{"f": 1}]}, "mark": {"type": "rect", "filled": false, "stroke": "#333333", "strokeWidth": 3},
    "encoding": {"x": {"datum": -3.5}, "x2": {"datum": 3.5}, "y": {"datum": -0.228}, "y2": {"datum": 1.151}}}
  ]
 },
 {
  "data": {"name": "cv"},
  "transform": [
   {"fold": ["0","1","2","3"], "as": ["c","v1"]},
   {"fold": ["0","30","60","90"], "as": ["p","v2"]},
   {"filter": "datum.s=='S'||(datum.s=='R0'&&datum.c=='0')||(substring(datum.s,1,2)==datum.c&&split(datum.s,'_')[1]==datum.p)"}
  ],
  "facet": {"row": {"field": "p", "type": "nominal", "header": null}, "column": {"field": "c", "type": "nominal", "header": null}},
  "spacing": {"row": 107, "column": 79},
  "bounds": "flush",
  "spec": {"width": 442, "height": 277, "layer": [
   {"transform": [{"filter": "indexof(datum.s,'L')==0"}], "mark": {"type": "rect", "filled": false, "stroke": "#a8a8a8", "strokeWidth": 2}, "encoding": {"x": {"datum": -1, "type": "quantitative", "scale": {"domain": [-1, 1], "nice": false, "zero": false}}, "x2": {"datum": 1}, "y": {"datum": -0.236, "type": "quantitative", "scale": {"domain": [-0.236, 1.023], "nice": false, "zero": false}}, "y2": {"datum": 1.023}}},
   {"transform": [{"filter": "indexof(datum.s,'L')==0"}], "mark": {"type": "rule", "color": "#cccccc", "strokeWidth": 1.5}, "encoding": {"x": {"datum": 0}, "y": {"datum": -0.236}, "y2": {"datum": 1.023}}},
   {"transform": [{"filter": "indexof(datum.s,'L')==0"}], "mark": {"type": "rule", "color": "#cccccc", "strokeWidth": 1.5}, "encoding": {"y": {"datum": 0}, "x": {"datum": -1}, "x2": {"datum": 1}}},
   {"transform": [{"filter": "datum.s=='S'"}], "mark": {"type": "line", "strokeWidth": 4.8}, "encoding": {"x": {"field": "x", "type": "quantitative"}, "y": {"field": "y", "type": "quantitative"}, "color": {"condition": [{"test": "datum.c=='0'", "value": "#2d5aaf"}, {"test": "datum.c=='1'&&datum.p=='90'", "value": "#5fa7ad"}], "value": "#a0cbcf"}}},
   {"transform": [{"filter": "indexof(datum.s,'R')==0||(datum.s=='S'&&datum.c=='1'&&datum.p=='0')"}], "mark": {"type": "line", "strokeWidth": 5}, "encoding": {"x": {"field": "x", "type": "quantitative"}, "y": {"field": "y", "type": "quantitative"}, "color": {"condition": {"test": "datum.s=='R0'||indexof(datum.s,'R1_')==0", "value": "#f03c3c"}, "value": "#d42a2a"}}},
   {"transform": [{"filter": "indexof(datum.s,'B')==0||indexof(datum.s,'E')==0"}], "mark": {"type": "line", "strokeWidth": 5}, "encoding": {"x": {"field": "x", "type": "quantitative"}, "y": {"field": "y", "type": "quantitative"}, "color": {"condition": {"test": "indexof(datum.s,'E')==0", "value": "#4f4a9a"}, "value": "#4268bd"}}},

   {"transform": [{"filter": "indexof(datum.s,'L')==0&&datum.c=='0'"}], "mark": {"type": "rect", "fill": "#ffffff", "stroke": "#8c8c8c", "strokeWidth": 2}, "encoding": {"x": {"datum": 0.104}, "x2": {"datum": 1.303}, "y": {"datum": 0.446}, "y2": {"datum": 1.037}}},
   {"transform": [{"filter": "indexof(datum.s,'L')==0&&datum.c=='0'"}], "mark": {"type": "rule", "color": "#2d5aaf", "strokeWidth": 5}, "encoding": {"x": {"datum": 0.122}, "x2": {"datum": 0.566}, "y": {"datum": 0.909}}},
   {"transform": [{"filter": "indexof(datum.s,'L')==0&&datum.c=='0'"}], "mark": {"type": "rule", "color": "#f03c3c", "strokeWidth": 5}, "encoding": {"x": {"datum": 0.122}, "x2": {"datum": 0.566}, "y": {"datum": 0.623}}},
   {"transform": [{"filter": "indexof(datum.s,'L')==0&&datum.c=='0'"}], "mark": {"type": "text", "fontSize": 42, "fontStyle": "italic", "dy": 16, "lineHeight": 63}, "encoding": {"x": {"datum": 0.593}, "y": {"datum": 0.909}, "text": {"value": ["I", "I"]}}},
   {"transform": [{"filter": "indexof(datum.s,'L')==0&&datum.c=='0'"}], "mark": {"type": "text", "fontSize": 29, "fontStyle": "italic", "dx": 14, "dy": 28, "lineHeight": 63}, "encoding": {"x": {"datum": 0.593}, "y": {"datum": 0.909}, "text": {"value": ["2", "2-comb"]}}},
   {"transform": [{"filter": "indexof(datum.s,'L')==0&&datum.c=='0'"}], "mark": {"type": "text", "fontSize": 42, "dx": 28.5, "dy": 16}, "encoding": {"x": {"datum": 0.593}, "y": {"datum": 0.909}, "text": {"value": "(0)"}}},
   {"transform": [{"filter": "indexof(datum.s,'L')==0&&datum.c=='0'"}], "mark": {"type": "text", "fontSize": 42, "dx": 101, "dy": 79}, "encoding": {"x": {"datum": 0.593}, "y": {"datum": 0.909}, "text": {"value": "(0)"}}},

   {"transform": [{"filter": "indexof(datum.s,'L')==0&&datum.c=='2'"}], "mark": {"type": "rect", "fill": "#ffffff", "stroke": "#8c8c8c", "strokeWidth": 2}, "encoding": {"x": {"datum": -2.253}, "x2": {"datum": -0.724}, "y": {"datum": 0.318}, "y2": {"datum": 1.205}}},
   {"transform": [{"filter": "indexof(datum.s,'L')==0&&datum.c=='2'"}], "mark": {"type": "rule", "strokeWidth": 5}, "encoding": {"x": {"datum": -2.231}, "x2": {"datum": -1.787}, "y": {"datum": 1.073}, "color": {"condition": {"test": "datum.p=='90'", "value": "#5fa7ad"}, "value": "#a0cbcf"}}},
   {"transform": [{"filter": "indexof(datum.s,'L')==0&&datum.c=='2'"}], "mark": {"type": "rule", "strokeWidth": 5}, "encoding": {"x": {"datum": -2.231}, "x2": {"datum": -1.787}, "y": {"datum": 0.782}, "color": {"condition": {"test": "datum.p=='30'||datum.p=='60'", "value": "#f03c3c"}, "value": "#d42a2a"}}},
   {"transform": [{"filter": "indexof(datum.s,'L')==0&&datum.c=='2'"}], "mark": {"type": "rule", "strokeWidth": 5, "color": "#4268bd"}, "encoding": {"x": {"datum": -2.231}, "x2": {"datum": -1.787}, "y": {"datum": 0.491}}},
   {"transform": [{"filter": "indexof(datum.s,'L')==0&&datum.c=='2'"}], "mark": {"type": "text", "fontSize": 42, "fontStyle": "italic", "dy": 16, "lineHeight": 64}, "encoding": {"x": {"datum": -1.756}, "y": {"datum": 1.073}, "text": {"value": ["I", "I", "I"]}}},
   {"transform": [{"filter": "indexof(datum.s,'L')==0&&datum.c=='2'"}], "mark": {"type": "text", "fontSize": 29, "fontStyle": "italic", "dx": 14, "dy": 28, "lineHeight": 64}, "encoding": {"x": {"datum": -1.756}, "y": {"datum": 1.073}, "text": {"value": ["2", "2-comb", "2-comb"]}}},
   {"transform": [{"filter": "indexof(datum.s,'L')==0&&datum.c=='2'"}], "mark": {"type": "text", "fontSize": 42, "dx": 28.5, "dy": 16}, "encoding": {"x": {"datum": -1.756}, "y": {"datum": 1.073}, "text": {"value": "(Δ"}}},
   {"transform": [{"filter": "indexof(datum.s,'L')==0&&datum.c=='2'"}], "mark": {"type": "text", "fontSize": 42, "dx": 101, "dy": 80, "lineHeight": 64}, "encoding": {"x": {"datum": -1.756}, "y": {"datum": 1.073}, "text": {"value": ["(Δ", "(−Δ"]}}},
   {"transform": [{"filter": "indexof(datum.s,'L')==0&&datum.c=='2'"}], "mark": {"type": "text", "fontSize": 29, "fontStyle": "italic", "dx": 68.2, "dy": 28}, "encoding": {"x": {"datum": -1.756}, "y": {"datum": 1.073}, "text": {"value": "FPI"}}},
   {"transform": [{"filter": "indexof(datum.s,'L')==0&&datum.c=='2'"}], "mark": {"type": "text", "fontSize": 29, "fontStyle": "italic", "dx": 140.7, "dy": 92}, "encoding": {"x": {"datum": -1.756}, "y": {"datum": 1.073}, "text": {"value": "FPI"}}},
   {"transform": [{"filter": "indexof(datum.s,'L')==0&&datum.c=='2'"}], "mark": {"type": "text", "fontSize": 29, "fontStyle": "italic", "dx": 164.4, "dy": 156}, "encoding": {"x": {"datum": -1.756}, "y": {"datum": 1.073}, "text": {"value": "FPI"}}},
   {"transform": [{"filter": "indexof(datum.s,'L')==0&&datum.c=='2'"}], "mark": {"type": "text", "fontSize": 42, "dx": 113.3, "dy": 16}, "encoding": {"x": {"datum": -1.756}, "y": {"datum": 1.073}, "text": {"value": ")"}}},
   {"transform": [{"filter": "indexof(datum.s,'L')==0&&datum.c=='2'"}], "mark": {"type": "text", "fontSize": 42, "dx": 185.8, "dy": 80}, "encoding": {"x": {"datum": -1.756}, "y": {"datum": 1.073}, "text": {"value": ")"}}},
   {"transform": [{"filter": "indexof(datum.s,'L')==0&&datum.c=='2'"}], "mark": {"type": "text", "fontSize": 42, "dx": 209.5, "dy": 144}, "encoding": {"x": {"datum": -1.756}, "y": {"datum": 1.073}, "text": {"value": ")"}}},

   {"transform": [{"filter": "indexof(datum.s,'L')==0&&datum.c=='3'"}], "mark": {"type": "rect", "fill": "#ffffff", "stroke": "#8c8c8c", "strokeWidth": 2}, "encoding": {"x": {"datum": -2.249}, "x2": {"datum": -0.624}, "y": {"datum": 0.318}, "y2": {"datum": 1.205}}},
   {"transform": [{"filter": "indexof(datum.s,'L')==0&&datum.c=='3'"}], "mark": {"type": "rule", "strokeWidth": 5, "color": "#a0cbcf"}, "encoding": {"x": {"datum": -2.231}, "x2": {"datum": -1.787}, "y": {"datum": 1.073}}},
   {"transform": [{"filter": "indexof(datum.s,'L')==0&&datum.c=='3'"}], "mark": {"type": "rule", "strokeWidth": 5, "color": "#d42a2a"}, "encoding": {"x": {"datum": -2.231}, "x2": {"datum": -1.787}, "y": {"datum": 0.782}}},
   {"transform": [{"filter": "indexof(datum.s,'L')==0&&datum.c=='3'"}], "mark": {"type": "rule", "strokeWidth": 5, "color": "#4268bd"}, "encoding": {"x": {"datum": -2.231}, "x2": {"datum": -1.787}, "y": {"datum": 0.491}}},
   {"transform": [{"filter": "indexof(datum.s,'L')==0&&datum.c=='3'"}], "mark": {"type": "text", "fontSize": 42, "fontStyle": "italic", "dy": 16, "lineHeight": 64}, "encoding": {"x": {"datum": -1.751}, "y": {"datum": 1.073}, "text": {"value": ["I", "I", "I"]}}},
   {"transform": [{"filter": "indexof(datum.s,'L')==0&&datum.c=='3'"}], "mark": {"type": "text", "fontSize": 29, "fontStyle": "italic", "dx": 14, "dy": 28, "lineHeight": 64}, "encoding": {"x": {"datum": -1.751}, "y": {"datum": 1.073}, "text": {"value": ["2", "2-comb", "2-comb"]}}},
   {"transform": [{"filter": "indexof(datum.s,'L')==0&&datum.c=='3'"}], "mark": {"type": "text", "fontSize": 42, "dx": 28.5, "dy": 16}, "encoding": {"x": {"datum": -1.751}, "y": {"datum": 1.073}, "text": {"value": "(2Δ"}}},
   {"transform": [{"filter": "indexof(datum.s,'L')==0&&datum.c=='3'"}], "mark": {"type": "text", "fontSize": 42, "dx": 101, "dy": 80, "lineHeight": 64}, "encoding": {"x": {"datum": -1.751}, "y": {"datum": 1.073}, "text": {"value": ["(2Δ", "(−2Δ"]}}},
   {"transform": [{"filter": "indexof(datum.s,'L')==0&&datum.c=='3'"}], "mark": {"type": "text", "fontSize": 29, "fontStyle": "italic", "dx": 89.2, "dy": 28}, "encoding": {"x": {"datum": -1.751}, "y": {"datum": 1.073}, "text": {"value": "FPI"}}},
   {"transform": [{"filter": "indexof(datum.s,'L')==0&&datum.c=='3'"}], "mark": {"type": "text", "fontSize": 29, "fontStyle": "italic", "dx": 161.7, "dy": 92}, "encoding": {"x": {"datum": -1.751}, "y": {"datum": 1.073}, "text": {"value": "FPI"}}},
   {"transform": [{"filter": "indexof(datum.s,'L')==0&&datum.c=='3'"}], "mark": {"type": "text", "fontSize": 29, "fontStyle": "italic", "dx": 185.4, "dy": 156}, "encoding": {"x": {"datum": -1.751}, "y": {"datum": 1.073}, "text": {"value": "FPI"}}},
   {"transform": [{"filter": "indexof(datum.s,'L')==0&&datum.c=='3'"}], "mark": {"type": "text", "fontSize": 42, "dx": 134.3, "dy": 16}, "encoding": {"x": {"datum": -1.751}, "y": {"datum": 1.073}, "text": {"value": ")"}}},
   {"transform": [{"filter": "indexof(datum.s,'L')==0&&datum.c=='3'"}], "mark": {"type": "text", "fontSize": 42, "dx": 206.8, "dy": 80}, "encoding": {"x": {"datum": -1.751}, "y": {"datum": 1.073}, "text": {"value": ")"}}},
   {"transform": [{"filter": "indexof(datum.s,'L')==0&&datum.c=='3'"}], "mark": {"type": "text", "fontSize": 42, "dx": 230.5, "dy": 144}, "encoding": {"x": {"datum": -1.751}, "y": {"datum": 1.073}, "text": {"value": ")"}}},

   {"transform": [{"filter": "indexof(datum.s,'L')==0&&datum.c=='3'"}], "mark": {"type": "rect", "fill": "#ffffff", "stroke": "#8c8c8c", "strokeWidth": 2}, "encoding": {"x": {"datum": 0.109}, "x2": {"datum": 1.738}, "y": {"datum": 0.318}, "y2": {"datum": 1.205}}},
   {"transform": [{"filter": "indexof(datum.s,'L')==0&&datum.c=='3'"}], "mark": {"type": "rule", "strokeWidth": 5, "color": "#a0cbcf"}, "encoding": {"x": {"datum": 0.131}, "x2": {"datum": 0.57}, "y": {"datum": 1.073}}},
   {"transform": [{"filter": "indexof(datum.s,'L')==0&&datum.c=='3'"}], "mark": {"type": "rule", "strokeWidth": 5, "color": "#d42a2a"}, "encoding": {"x": {"datum": 0.131}, "x2": {"datum": 0.57}, "y": {"datum": 0.782}}},
   {"transform": [{"filter": "indexof(datum.s,'L')==0&&datum.c=='3'"}], "mark": {"type": "rule", "strokeWidth": 5, "color": "#4268bd"}, "encoding": {"x": {"datum": 0.131}, "x2": {"datum": 0.57}, "y": {"datum": 0.491}}},
   {"transform": [{"filter": "indexof(datum.s,'L')==0&&datum.c=='3'"}], "mark": {"type": "text", "fontSize": 42, "fontStyle": "italic", "dy": 16, "lineHeight": 64}, "encoding": {"x": {"datum": 0.597}, "y": {"datum": 1.073}, "text": {"value": ["I", "I", "I"]}}},
   {"transform": [{"filter": "indexof(datum.s,'L')==0&&datum.c=='3'"}], "mark": {"type": "text", "fontSize": 29, "fontStyle": "italic", "dx": 14, "dy": 28, "lineHeight": 64}, "encoding": {"x": {"datum": 0.597}, "y": {"datum": 1.073}, "text": {"value": ["2", "2-comb", "2-comb"]}}},
   {"transform": [{"filter": "indexof(datum.s,'L')==0&&datum.c=='3'"}], "mark": {"type": "text", "fontSize": 42, "dx": 28.5, "dy": 16}, "encoding": {"x": {"datum": 0.597}, "y": {"datum": 1.073}, "text": {"value": "(3Δ"}}},
   {"transform": [{"filter": "indexof(datum.s,'L')==0&&datum.c=='3'"}], "mark": {"type": "text", "fontSize": 42, "dx": 101, "dy": 80, "lineHeight": 64}, "encoding": {"x": {"datum": 0.597}, "y": {"datum": 1.073}, "text": {"value": ["(3Δ", "(−3Δ"]}}},
   {"transform": [{"filter": "indexof(datum.s,'L')==0&&datum.c=='3'"}], "mark": {"type": "text", "fontSize": 29, "fontStyle": "italic", "dx": 89.2, "dy": 28}, "encoding": {"x": {"datum": 0.597}, "y": {"datum": 1.073}, "text": {"value": "FPI"}}},
   {"transform": [{"filter": "indexof(datum.s,'L')==0&&datum.c=='3'"}], "mark": {"type": "text", "fontSize": 29, "fontStyle": "italic", "dx": 161.7, "dy": 92}, "encoding": {"x": {"datum": 0.597}, "y": {"datum": 1.073}, "text": {"value": "FPI"}}},
   {"transform": [{"filter": "indexof(datum.s,'L')==0&&datum.c=='3'"}], "mark": {"type": "text", "fontSize": 29, "fontStyle": "italic", "dx": 185.4, "dy": 156}, "encoding": {"x": {"datum": 0.597}, "y": {"datum": 1.073}, "text": {"value": "FPI"}}},
   {"transform": [{"filter": "indexof(datum.s,'L')==0&&datum.c=='3'"}], "mark": {"type": "text", "fontSize": 42, "dx": 134.3, "dy": 16}, "encoding": {"x": {"datum": 0.597}, "y": {"datum": 1.073}, "text": {"value": ")"}}},
   {"transform": [{"filter": "indexof(datum.s,'L')==0&&datum.c=='3'"}], "mark": {"type": "text", "fontSize": 42, "dx": 206.8, "dy": 80}, "encoding": {"x": {"datum": 0.597}, "y": {"datum": 1.073}, "text": {"value": ")"}}},
   {"transform": [{"filter": "indexof(datum.s,'L')==0&&datum.c=='3'"}], "mark": {"type": "text", "fontSize": 42, "dx": 230.5, "dy": 144}, "encoding": {"x": {"datum": 0.597}, "y": {"datum": 1.073}, "text": {"value": ")"}}},

   {"transform": [{"filter": "indexof(datum.s,'L')==0&&datum.c=='0'"}], "mark": {"type": "text", "fontSize": 56}, "encoding": {"x": {"datum": -0.928}, "y": {"datum": 0.714}, "text": {"field": "t"}}},
   {"transform": [{"filter": "indexof(datum.s,'L')==0&&datum.c=='1'"}], "mark": {"type": "text", "fontSize": 56}, "encoding": {"x": {"datum": -0.914}, "y": {"datum": 0.714}, "text": {"field": "t"}}},
   {"transform": [{"filter": "indexof(datum.s,'L')==0&&datum.c=='2'"}], "mark": {"type": "text", "fontSize": 56}, "encoding": {"x": {"datum": -0.758}, "y": {"datum": 0.714}, "text": {"field": "t"}}},
   {"transform": [{"filter": "indexof(datum.s,'L')==0&&datum.c=='3'"}], "mark": {"type": "text", "fontSize": 56}, "encoding": {"x": {"datum": -0.668}, "y": {"datum": 0.714}, "text": {"field": "t"}}},

   {"transform": [{"filter": "indexof(datum.s,'L')==0&&datum.c=='0'"}], "mark": {"type": "text", "fontSize": 48, "align": "center"}, "encoding": {"x": {"datum": 0}, "y": {"datum": -0.422}, "text": {"value": "0"}}},
   {"transform": [{"filter": "indexof(datum.s,'L')==0&&datum.c=='1'"}], "mark": {"type": "text", "fontSize": 48, "dx": -41}, "encoding": {"x": {"datum": 0}, "y": {"datum": -0.422}, "text": {"value": "±Δ"}}},
   {"transform": [{"filter": "indexof(datum.s,'L')==0&&datum.c=='1'"}], "mark": {"type": "text", "fontSize": 36, "fontStyle": "italic", "dx": 14.8, "dy": 15}, "encoding": {"x": {"datum": 0}, "y": {"datum": -0.422}, "text": {"value": "FPI"}}},
   {"transform": [{"filter": "indexof(datum.s,'L')==0&&datum.c=='2'"}], "mark": {"type": "text", "fontSize": 48, "dx": -55}, "encoding": {"x": {"datum": 0}, "y": {"datum": -0.422}, "text": {"value": "±2Δ"}}},
   {"transform": [{"filter": "indexof(datum.s,'L')==0&&datum.c=='2'"}], "mark": {"type": "text", "fontSize": 36, "fontStyle": "italic", "dx": 24.8, "dy": 15}, "encoding": {"x": {"datum": 0}, "y": {"datum": -0.422}, "text": {"value": "FPI"}}},
   {"transform": [{"filter": "indexof(datum.s,'L')==0&&datum.c=='3'"}], "mark": {"type": "text", "fontSize": 48, "dx": -51}, "encoding": {"x": {"datum": 0}, "y": {"datum": -0.422}, "text": {"value": "±3Δ"}}},
   {"transform": [{"filter": "indexof(datum.s,'L')==0&&datum.c=='3'"}], "mark": {"type": "text", "fontSize": 36, "fontStyle": "italic", "dx": 28.8, "dy": 15}, "encoding": {"x": {"datum": 0}, "y": {"datum": -0.422}, "text": {"value": "FPI"}}},

   {"transform": [{"filter": "indexof(datum.s,'L')==0&&datum.c=='0'&&datum.p=='90'"}], "mark": {"type": "text", "fontSize": 72, "fontStyle": "italic", "dx": -60}, "encoding": {"x": {"datum": 0}, "y": {"datum": -0.804}, "text": {"value": "m"}}},
   {"transform": [{"filter": "indexof(datum.s,'L')==0&&datum.c=='0'&&datum.p=='90'"}], "mark": {"type": "text", "fontSize": 72, "dx": -8}, "encoding": {"x": {"datum": 0}, "y": {"datum": -0.804}, "text": {"value": "=0"}}},
   {"transform": [{"filter": "indexof(datum.s,'L')==0&&datum.c=='1'&&datum.p=='90'"}], "mark": {"type": "text", "fontSize": 72, "fontStyle": "italic", "dx": -68}, "encoding": {"x": {"datum": 0}, "y": {"datum": -0.804}, "text": {"value": "m"}}},
   {"transform": [{"filter": "indexof(datum.s,'L')==0&&datum.c=='1'&&datum.p=='90'"}], "mark": {"type": "text", "fontSize": 72, "dx": -16}, "encoding": {"x": {"datum": 0}, "y": {"datum": -0.804}, "text": {"value": "=1"}}},
   {"transform": [{"filter": "indexof(datum.s,'L')==0&&datum.c=='2'&&datum.p=='90'"}], "mark": {"type": "text", "fontSize": 72, "fontStyle": "italic", "dx": -51}, "encoding": {"x": {"datum": 0}, "y": {"datum": -0.804}, "text": {"value": "m"}}},
   {"transform": [{"filter": "indexof(datum.s,'L')==0&&datum.c=='2'&&datum.p=='90'"}], "mark": {"type": "text", "fontSize": 72, "dx": 1}, "encoding": {"x": {"datum": 0}, "y": {"datum": -0.804}, "text": {"value": "=2"}}},
   {"transform": [{"filter": "indexof(datum.s,'L')==0&&datum.c=='3'&&datum.p=='90'"}], "mark": {"type": "text", "fontSize": 72, "fontStyle": "italic", "dx": -23}, "encoding": {"x": {"datum": 0}, "y": {"datum": -0.804}, "text": {"value": "m"}}},
   {"transform": [{"filter": "indexof(datum.s,'L')==0&&datum.c=='3'&&datum.p=='90'"}], "mark": {"type": "text", "fontSize": 72, "dx": 29}, "encoding": {"x": {"datum": 0}, "y": {"datum": -0.804}, "text": {"value": "=3"}}},

   {"transform": [{"filter": "indexof(datum.s,'L')==0&&datum.c=='0'"}], "mark": {"type": "text", "fontSize": 72, "fontStyle": "italic"}, "encoding": {"x": {"datum": -2.964}, "y": {"datum": 0.191}, "text": {"value": "φ"}}},
   {"transform": [{"filter": "indexof(datum.s,'L')==0&&datum.c=='0'"}], "mark": {"type": "text", "fontSize": 50, "fontStyle": "italic", "dx": 36, "dy": 20}, "encoding": {"x": {"datum": -2.964}, "y": {"datum": 0.191}, "text": {"value": "FTIS"}}},
   {"transform": [{"filter": "indexof(datum.s,'L')==0&&datum.c=='0'"}], "mark": {"type": "text", "fontSize": 72, "dx": 142}, "encoding": {"x": {"datum": -2.964}, "y": {"datum": 0.191}, "text": {"value": "−"}}},
   {"transform": [{"filter": "indexof(datum.s,'L')==0&&datum.c=='0'"}], "mark": {"type": "text", "fontSize": 72, "fontStyle": "italic", "dx": 180}, "encoding": {"x": {"datum": -2.964}, "y": {"datum": 0.191}, "text": {"value": "φ"}}},
   {"transform": [{"filter": "indexof(datum.s,'L')==0&&datum.c=='0'"}], "mark": {"type": "text", "fontSize": 50, "fontStyle": "italic", "dx": 217, "dy": 20}, "encoding": {"x": {"datum": -2.964}, "y": {"datum": 0.191}, "text": {"value": "FPI"}}},
   {"transform": [{"filter": "indexof(datum.s,'L')==0&&datum.c=='0'"}], "mark": {"type": "text", "fontSize": 72, "dx": 296}, "encoding": {"x": {"datum": -2.964}, "y": {"datum": 0.191}, "text": {"field": "d"}}}
  ]}
 }
],
"spacing": 159,
"bounds": "flush"
}
